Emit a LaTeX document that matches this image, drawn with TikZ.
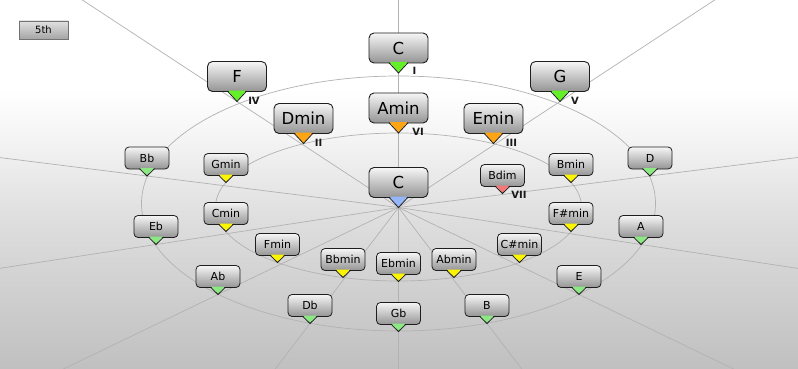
\documentclass[tikz,border=0pt]{standalone}
\usepackage{fontspec}
\setmainfont{DejaVu Sans}
\usetikzlibrary{calc}
\pgfdeclarelayer{bg}
\pgfsetlayers{bg,main}
\definecolor{bgA}{RGB}{255,255,255}
\definecolor{bgB}{RGB}{245,245,245}
\definecolor{bgC}{RGB}{222,222,222}
\definecolor{bgD}{RGB}{192,192,192}
\definecolor{linegray}{RGB}{178,178,178}
\definecolor{boxtop}{RGB}{246,246,246}
\definecolor{boxbot}{RGB}{148,148,148}
\definecolor{edgec}{RGB}{30,30,30}
\definecolor{gbright}{RGB}{100,240,40}
\definecolor{gpale}{RGB}{140,232,130}
\definecolor{orng}{RGB}{255,165,20}
\definecolor{yllw}{RGB}{252,245,0}
\definecolor{pnk}{RGB}{240,120,120}
\definecolor{blu}{RGB}{150,182,250}
\definecolor{btntop}{RGB}{225,225,225}
\definecolor{btnbot}{RGB}{165,165,165}
\tikzset{
  chordbig/.style={draw=edgec, line width=0.9pt, rounded corners=5pt,
    minimum width=59pt, minimum height=30pt, inner sep=0pt, outer sep=0pt,
    top color=boxtop, bottom color=boxbot, text=black,
    font=\fontsize{16.5}{18}\selectfont},
  chordsmall/.style={draw=edgec, line width=0.8pt, rounded corners=4pt,
    minimum width=44pt, minimum height=22pt, inner sep=0pt, outer sep=0pt,
    top color=boxtop, bottom color=boxbot, text=black,
    font=\fontsize{11}{12}\selectfont},
  tipedge/.style={draw=edgec, line width=0.8pt, line join=miter},
  ray/.style={draw=linegray, line width=0.7pt},
  orbit/.style={draw=linegray, line width=0.7pt},
  degree/.style={font=\bfseries\fontsize{10}{11}\selectfont, text=black!90, inner sep=0pt},
  btn/.style={draw=black!55, line width=0.8pt, minimum width=49pt, minimum height=18pt,
    inner sep=0pt, top color=btntop, bottom color=btnbot, font=\fontsize{10}{11}\selectfont}
}
% big chord: name, x, y, text, pointer colour
\newcommand\bigchord[5]{%
  \node[chordbig] (#1) at (#2,#3) {#4};
  \coordinate (#1-tip) at ($(#1.south)+(0,10)$);
  \fill[#5] ($(#1.south)+(-9,-1)$) -- ($(#1.south)+(9,-1)$) -- (#1-tip) -- cycle;
  \draw[tipedge] ($(#1.south)+(-9.5,-0.3)$) -- (#1-tip) -- ($(#1.south)+(9.5,-0.3)$);
}
\newcommand\smallchord[5]{%
  \node[chordsmall] (#1) at (#2,#3) {#4};
  \coordinate (#1-tip) at ($(#1.south)+(0,7)$);
  \fill[#5] ($(#1.south)+(-7,-1)$) -- ($(#1.south)+(7,-1)$) -- (#1-tip) -- cycle;
  \draw[tipedge] ($(#1.south)+(-7.5,-0.3)$) -- (#1-tip) -- ($(#1.south)+(7.5,-0.3)$);
}
\begin{document}
\begin{tikzpicture}[x=1pt,y=-1pt]
\useasboundingbox (0,0) rectangle (798,369);

% big chords
\bigchord{Ctop}{398.5}{48}{C}{gbright}
\bigchord{F}{237}{76.5}{F}{gbright}
\bigchord{G}{560}{76.5}{G}{gbright}
\bigchord{Amin}{398.5}{108}{Amin}{orng}
\bigchord{Dmin}{303.5}{118.5}{Dmin}{orng}
\bigchord{Emin}{493.5}{118.5}{Emin}{orng}
\bigchord{Cc}{398.5}{182.5}{C}{blu}

% small major chords
\smallchord{Bb}{147}{158}{Bb}{gpale}
\smallchord{D}{650}{158}{D}{gpale}
\smallchord{Eb}{156}{226.5}{Eb}{gpale}
\smallchord{A}{641}{226.5}{A}{gpale}
\smallchord{Ab}{218}{276.5}{Ab}{gpale}
\smallchord{E}{579}{276.5}{E}{gpale}
\smallchord{Db}{310}{305.5}{Db}{gpale}
\smallchord{B}{487}{305.5}{B}{gpale}
\smallchord{Gb}{398.5}{313.5}{Gb}{gpale}

% small minor chords
\smallchord{Gmin}{226}{164.5}{Gmin}{yllw}
\smallchord{Bmin}{571}{164.5}{Bmin}{yllw}
\smallchord{Cmin}{226}{213.5}{Cmin}{yllw}
\smallchord{Fsmin}{571}{213.5}{F\#min}{yllw}
\smallchord{Fmin}{277.5}{244.5}{Fmin}{yllw}
\smallchord{Csmin}{519.5}{244.5}{C\#min}{yllw}
\smallchord{Bbmin}{343}{259.5}{Bbmin}{yllw}
\smallchord{Abmin}{454}{259.5}{Abmin}{yllw}
\smallchord{Ebmin}{398.5}{263.5}{Ebmin}{yllw}
\smallchord{Bdim}{502.5}{175.5}{Bdim}{pnk}

% degree labels
\node[degree] (dI) at (414.5,70.5) {I};
\node[degree] (dIV) at (254,100.5) {IV};
\node[degree] (dV) at (575,100.5) {V};
\node[degree] (dVI) at (418,132) {VI};
\node[degree] (dII) at (318.5,143) {II};
\node[degree] (dIII) at (511.5,143) {III};
\node[degree] (dVII) at (519,195) {VII};

% button
\node[btn] (fifth) at (43.5,30) {5th};

\begin{pgfonlayer}{bg}
  \fill[bgA] (0,0) rectangle (798,90);
  \shade[top color=bgA, bottom color=bgB] (0,89.5) rectangle (798,135);
  \shade[top color=bgB, bottom color=bgC] (0,134.5) rectangle (798,220);
  \shade[top color=bgC, bottom color=bgD] (0,219.5) rectangle (798,369);
  \begin{scope}
    \clip (0,0) rectangle (798,369);
    \draw[orbit] (398.5,203.5) ellipse [x radius=257pt, y radius=127.5pt];
    \draw[orbit] (398.5,207) ellipse [x radius=183pt, y radius=74pt];
    \foreach \t in {Ctop,G,D,A,E,B,Gb,Db,Ab,Eb,Bb,F}{
      \draw[ray] (Cc-tip) -- ($(Cc-tip)!1000pt!(\t-tip)$);
    }
  \end{scope}
\end{pgfonlayer}
\end{tikzpicture}
\end{document}
